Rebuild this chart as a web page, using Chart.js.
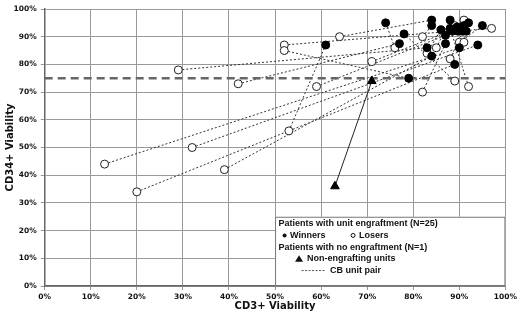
<!DOCTYPE html>
<html>
<head>
<meta charset="utf-8">
<script src="https://cdn.jsdelivr.net/npm/chart.js@4"></script>
<style>
  html, body { margin: 0; padding: 0; background: #fff; }
  #wrap { width: 520px; height: 319px; }
</style>
</head>
<body>
<div id="wrap"><canvas id="viabilityChart"></canvas></div>
<script>
// one entry per patient: loser unit and winner unit of the same CB pair
const loserCD3   = [13, 20, 29, 32, 39, 42, 52, 52, 53, 59, 64, 71, 76, 82, 83, 85, 88, 89, 92, 82, 90, 91, 91, 89, 97];
const loserCD34  = [44, 34, 78, 50, 42, 73, 87, 85, 56, 72, 90, 81, 86, 90, 84, 86, 82, 74, 72, 70, 88, 88, 96, 94, 93];
const winnerCD3  = [90, 89, 83, 94, 84, 77, 88.5, 79, 61, 87, 84, 91, 74, 84, 86, 88, 90.8, 78, 88, 87, 95, 91.5, 89.5, 92, 89.7];
const winnerCD34 = [86, 80, 86, 87, 83, 87.5, 92, 75, 87, 90.5, 96, 94, 95, 94, 92.5, 96, 92, 91, 93, 87.5, 94, 92, 93.5, 95, 92];

// patient with no engraftment
const nonEngCD3  = [63, 71];
const nonEngCD34 = [36, 74];

const threshold = 75;
const axisTicks = [0, 10, 20, 30, 40, 50, 60, 70, 80, 90, 100];

const tickFont = { family: "DejaVu Sans", weight: "bold", size: 7.5 };
const titleFont = { family: "DejaVu Sans", weight: "bold", size: 10 };

const toPoints = (xs, ys) => xs.map((x, i) => ({ x: x, y: ys[i] }));

const pairLines = loserCD3.map((x, i) => ({
  data: [{ x: x, y: loserCD34[i] }, { x: winnerCD3[i], y: winnerCD34[i] }],
  showLine: true,
  borderColor: "#333",
  borderWidth: 1,
  borderDash: [2, 2],
  pointRadius: 0,
  order: 4
}));

const datasets = pairLines.concat([
  {
    data: [{ x: 0, y: threshold }, { x: 100, y: threshold }],
    showLine: true,
    borderColor: "#666",
    borderWidth: 2.6,
    borderDash: [8, 5],
    pointRadius: 0,
    order: 3
  },
  {
    data: toPoints(nonEngCD3, nonEngCD34),
    showLine: true,
    borderColor: "#222",
    borderWidth: 1,
    pointStyle: "triangle",
    pointRadius: 5,
    backgroundColor: "#000",
    pointBorderColor: "#000",
    order: 2
  },
  {
    data: toPoints(loserCD3, loserCD34),
    pointRadius: 4,
    pointBackgroundColor: "#fff",
    pointBorderColor: "#222",
    pointBorderWidth: 1,
    order: 1
  },
  {
    data: toPoints(winnerCD3, winnerCD34),
    pointRadius: 4,
    pointBackgroundColor: "#000",
    pointBorderColor: "#000",
    pointBorderWidth: 1,
    order: 0
  }
]);

// legend box in the lower right of the plot, placed on the axis scales
const pairLegend = {
  id: "pairLegend",
  afterDraw(chart) {
    const ctx = chart.ctx, xs = chart.scales.x, ys = chart.scales.y;
    const left = xs.getPixelForValue(50), right = xs.getPixelForValue(100);
    const top = ys.getPixelForValue(25), bottom = ys.getPixelForValue(0);
    const row = i => top + 7 + i * 11.7;
    ctx.save();
    ctx.fillStyle = "#fff";
    ctx.fillRect(left, top, right - left, bottom - top);
    ctx.strokeStyle = "#777";
    ctx.lineWidth = 1;
    ctx.strokeRect(left + 0.5, top + 0.5, right - left - 1, bottom - top - 1);

    ctx.font = "bold 9px 'Liberation Sans'";
    ctx.fillStyle = "#111";
    ctx.textBaseline = "middle";
    ctx.fillText("Patients with unit engraftment (N=25)", left + 3.5, row(0));

    ctx.beginPath();
    ctx.arc(left + 9.5, row(1), 2, 0, Math.PI * 2);
    ctx.fill();
    ctx.fillText("Winners", left + 15, row(1));
    ctx.beginPath();
    ctx.arc(left + 78, row(1), 2, 0, Math.PI * 2);
    ctx.strokeStyle = "#111";
    ctx.stroke();
    ctx.fillText("Losers", left + 84, row(1));

    ctx.fillText("Patients with no engraftment (N=1)", left + 3.5, row(2));

    ctx.beginPath();
    ctx.moveTo(left + 24, row(3) - 3.5);
    ctx.lineTo(left + 28, row(3) + 3);
    ctx.lineTo(left + 20, row(3) + 3);
    ctx.closePath();
    ctx.fill();
    ctx.fillText("Non-engrafting units", left + 32, row(3));

    ctx.beginPath();
    ctx.setLineDash([2, 1.5]);
    ctx.strokeStyle = "#555";
    ctx.moveTo(left + 26.5, row(4));
    ctx.lineTo(left + 50, row(4));
    ctx.stroke();
    ctx.setLineDash([]);
    ctx.fillText("CB unit pair", left + 55, row(4));
    ctx.restore();
  }
};

new Chart("viabilityChart", {
  type: "scatter",
  data: { datasets: datasets },
  plugins: [pairLegend],
  options: {
    responsive: true,
    maintainAspectRatio: false,
    animation: false,
    layout: { padding: { top: 9, right: 12.7, left: 0, bottom: 0 } },
    plugins: {
      legend: { display: false },
      tooltip: { enabled: false }
    },
    scales: {
      x: {
        min: 0,
        max: 100,
        afterFit: s => { s.height = 33; },
        afterBuildTicks: s => { s.ticks = axisTicks.map(v => ({ value: v })); },
        grid: { color: "#999", lineWidth: 1, tickLength: 4 },
        border: { color: "#666", width: 1.5 },
        ticks: {
          font: tickFont,
          color: "#111",
          padding: 3,
          maxRotation: 0,
          callback: v => v + "%"
        },
        title: {
          display: true,
          text: "CD3+ Viability",
          font: titleFont,
          color: "#111",
          padding: { top: 0, bottom: 7 }
        }
      },
      y: {
        min: 0,
        max: 100,
        afterFit: s => { s.width = 44.7; },
        afterBuildTicks: s => { s.ticks = axisTicks.map(v => ({ value: v })); },
        grid: { color: "#999", lineWidth: 1, tickLength: 4 },
        border: { color: "#666", width: 1.5 },
        ticks: {
          font: tickFont,
          color: "#111",
          padding: 4,
          callback: v => v + "%"
        },
        title: {
          display: true,
          text: "CD34+ Viability",
          font: titleFont,
          color: "#111",
          padding: { top: 4, bottom: 0 }
        }
      }
    }
  }
});
</script>
</body>
</html>
